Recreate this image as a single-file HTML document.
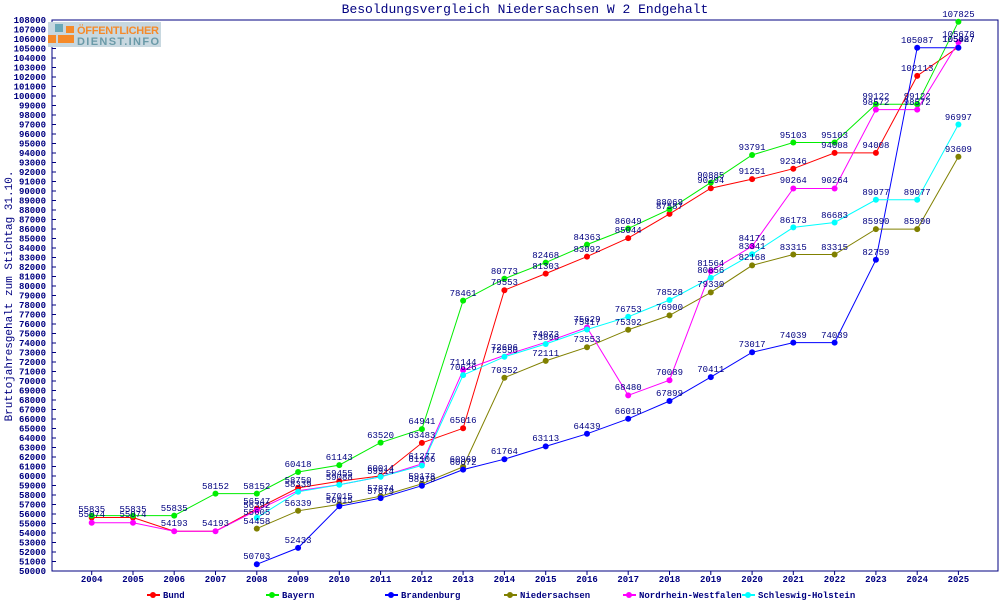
<!DOCTYPE html>
<html><head><meta charset="utf-8"><style>
body{margin:0;background:#fff;}
svg{display:block;font-family:"Liberation Mono","DejaVu Sans Mono",monospace;}
.t{font-size:9px;font-weight:bold;fill:#000080;}
.v{font-size:9px;fill:#000080;text-anchor:middle;}
</style></head><body>
<svg width="1000" height="600" viewBox="0 0 1000 600">
<rect width="1000" height="600" fill="#fff"/>
<text x="525" y="13" text-anchor="middle" font-size="13" fill="#000080">Besoldungsvergleich Niedersachsen W 2 Endgehalt</text>
<rect x="52" y="20" width="946" height="551" fill="none" stroke="#000080" stroke-width="1"/>
<g stroke="#000080" stroke-width="1">
<path d="M52 571h4M52 561.5h4M52 552h4M52 542.5h4M52 533h4M52 523.5h4M52 514h4M52 504.5h4M52 495h4M52 485.5h4M52 476h4M52 466.5h4M52 457h4M52 447.5h4M52 438h4M52 428.5h4M52 419h4M52 409.5h4M52 400h4M52 390.5h4M52 381h4M52 371.5h4M52 362h4M52 352.5h4M52 343h4M52 333.5h4M52 324h4M52 314.5h4M52 305h4M52 295.5h4M52 286h4M52 276.5h4M52 267h4M52 257.5h4M52 248h4M52 238.5h4M52 229h4M52 219.5h4M52 210h4M52 200.5h4M52 191h4M52 181.5h4M52 172h4M52 162.5h4M52 153h4M52 143.5h4M52 134h4M52 124.5h4M52 115h4M52 105.5h4M52 96h4M52 86.5h4M52 77h4M52 67.5h4M52 58h4M52 48.5h4M52 39h4M52 29.5h4"/>
<path d="M91.7 571v4M133 571v4M174.2 571v4M215.5 571v4M256.8 571v4M298.1 571v4M339.3 571v4M380.6 571v4M421.9 571v4M463.1 571v4M504.4 571v4M545.7 571v4M587 571v4M628.2 571v4M669.5 571v4M710.8 571v4M752.1 571v4M793.3 571v4M834.6 571v4M875.9 571v4M917.2 571v4M958.4 571v4"/>
</g>
<rect x="48" y="22" width="113" height="25" fill="#c8d8e0"/>
<rect x="55" y="24" width="8" height="8" fill="#6aa8b8"/><rect x="66" y="26" width="8" height="7" fill="#f58a2a"/>
<rect x="48" y="35" width="8" height="8" fill="#f58a2a"/><rect x="58" y="35" width="8" height="8" fill="#f58a2a"/><rect x="66" y="35" width="8" height="8" fill="#f58a2a"/>
<text x="77" y="34" font-size="11" font-weight="bold" fill="#f58a2a" font-family="Liberation Sans,sans-serif" textLength="82">ÖFFENTLICHER</text>
<text x="77" y="45" font-size="11" font-weight="bold" fill="#6a9aa8" font-family="Liberation Sans,sans-serif" textLength="82">DIENST.INFO</text>
<text transform="translate(12,296) rotate(-90)" text-anchor="middle" font-size="11" fill="#000080">Bruttojahresgehalt zum Stichtag 31.10.</text>
<g class="t" text-anchor="end">
<text x="46" y="574">50000</text><text x="46" y="564.5">51000</text><text x="46" y="555">52000</text><text x="46" y="545.5">53000</text><text x="46" y="536">54000</text><text x="46" y="526.5">55000</text><text x="46" y="517">56000</text><text x="46" y="507.5">57000</text><text x="46" y="498">58000</text><text x="46" y="488.5">59000</text><text x="46" y="479">60000</text><text x="46" y="469.5">61000</text><text x="46" y="460">62000</text><text x="46" y="450.5">63000</text><text x="46" y="441">64000</text><text x="46" y="431.5">65000</text><text x="46" y="422">66000</text><text x="46" y="412.5">67000</text><text x="46" y="403">68000</text><text x="46" y="393.5">69000</text><text x="46" y="384">70000</text><text x="46" y="374.5">71000</text><text x="46" y="365">72000</text><text x="46" y="355.5">73000</text><text x="46" y="346">74000</text><text x="46" y="336.5">75000</text><text x="46" y="327">76000</text><text x="46" y="317.5">77000</text><text x="46" y="308">78000</text><text x="46" y="298.5">79000</text><text x="46" y="289">80000</text><text x="46" y="279.5">81000</text><text x="46" y="270">82000</text><text x="46" y="260.5">83000</text><text x="46" y="251">84000</text><text x="46" y="241.5">85000</text><text x="46" y="232">86000</text><text x="46" y="222.5">87000</text><text x="46" y="213">88000</text><text x="46" y="203.5">89000</text><text x="46" y="194">90000</text><text x="46" y="184.5">91000</text><text x="46" y="175">92000</text><text x="46" y="165.5">93000</text><text x="46" y="156">94000</text><text x="46" y="146.5">95000</text><text x="46" y="137">96000</text><text x="46" y="127.5">97000</text><text x="46" y="118">98000</text><text x="46" y="108.5">99000</text><text x="46" y="99">100000</text><text x="46" y="89.5">101000</text><text x="46" y="80">102000</text><text x="46" y="70.5">103000</text><text x="46" y="61">104000</text><text x="46" y="51.5">105000</text><text x="46" y="42">106000</text><text x="46" y="32.5">107000</text><text x="46" y="23">108000</text>
</g>
<g class="t" text-anchor="middle">
<text x="91.7" y="582">2004</text><text x="133" y="582">2005</text><text x="174.2" y="582">2006</text><text x="215.5" y="582">2007</text><text x="256.8" y="582">2008</text><text x="298.1" y="582">2009</text><text x="339.3" y="582">2010</text><text x="380.6" y="582">2011</text><text x="421.9" y="582">2012</text><text x="463.1" y="582">2013</text><text x="504.4" y="582">2014</text><text x="545.7" y="582">2015</text><text x="587" y="582">2016</text><text x="628.2" y="582">2017</text><text x="669.5" y="582">2018</text><text x="710.8" y="582">2019</text><text x="752.1" y="582">2020</text><text x="793.3" y="582">2021</text><text x="834.6" y="582">2022</text><text x="875.9" y="582">2023</text><text x="917.2" y="582">2024</text><text x="958.4" y="582">2025</text>
</g>
<g fill="none" stroke-width="1">
<polyline stroke="#ff0000" points="91.7,517.5 133,517.5 174.2,531.2 215.5,531.2 256.8,508.8 298.1,487.9 339.3,481.2 380.6,475.9 421.9,442.9 463.1,428.3 504.4,290.2 545.7,273.6 587,256.6 628.2,238.1 669.5,213.9 710.8,188.2 752.1,179.1 793.3,168.7 834.6,152.9 875.9,152.9 917.2,75.9 958.4,47"/>
<polyline stroke="#00ee00" points="91.7,515.6 133,515.6 174.2,515.6 215.5,493.6 256.8,493.6 298.1,472 339.3,465.1 380.6,442.6 421.9,429.1 463.1,300.6 504.4,278.7 545.7,262.6 587,244.6 628.2,228.5 669.5,209.3 710.8,182.6 752.1,155 793.3,142.5 834.6,142.5 875.9,104.3 917.2,104.3 958.4,21.7"/>
<polyline stroke="#0000ff" points="256.8,564.3 298.1,547.9 339.3,506.3 380.6,498.1 421.9,485.7 463.1,469.6 504.4,459.2 545.7,446.4 587,433.8 628.2,418.8 669.5,401 710.8,377.1 752.1,352.3 793.3,342.6 834.6,342.6 875.9,259.8 917.2,47.7 958.4,47.7"/>
<polyline stroke="#808000" points="256.8,528.6 298.1,510.8 339.3,504.4 380.6,496.2 421.9,483.8 463.1,466.8 504.4,377.7 545.7,360.9 587,347.2 628.2,329.8 669.5,315.4 710.8,292.4 752.1,265.4 793.3,254.5 834.6,254.5 875.9,229.1 917.2,229.1 958.4,156.7"/>
<polyline stroke="#ff00ff" points="91.7,522.8 133,522.8 174.2,531.2 215.5,531.2 256.8,510.3 298.1,490.7 339.3,484.7 380.6,476.8 421.9,463.9 463.1,370.1 504.4,355.4 545.7,342.3 587,327.5 628.2,395.4 669.5,380.2 710.8,271.1 752.1,246.3 793.3,188.5 834.6,188.5 875.9,109.6 917.2,109.6 958.4,42.1"/>
<polyline stroke="#00ffff" points="256.8,517.8 298.1,491.8 339.3,484.7 380.6,476.8 421.9,465.5 463.1,375.1 504.4,356.8 545.7,344 587,329.5 628.2,316.8 669.5,300 710.8,277.9 752.1,254.3 793.3,227.4 834.6,222.5 875.9,199.8 917.2,199.8 958.4,124.5"/>
</g>
<g fill="#ff0000"><circle cx="91.7" cy="517.5" r="3"/><circle cx="133" cy="517.5" r="3"/><circle cx="256.8" cy="508.8" r="3"/><circle cx="298.1" cy="487.9" r="3"/><circle cx="339.3" cy="481.2" r="3"/><circle cx="380.6" cy="475.9" r="3"/><circle cx="421.9" cy="442.9" r="3"/><circle cx="463.1" cy="428.3" r="3"/><circle cx="504.4" cy="290.2" r="3"/><circle cx="545.7" cy="273.6" r="3"/><circle cx="587" cy="256.6" r="3"/><circle cx="628.2" cy="238.1" r="3"/><circle cx="669.5" cy="213.9" r="3"/><circle cx="710.8" cy="188.2" r="3"/><circle cx="752.1" cy="179.1" r="3"/><circle cx="793.3" cy="168.7" r="3"/><circle cx="834.6" cy="152.9" r="3"/><circle cx="875.9" cy="152.9" r="3"/><circle cx="917.2" cy="75.9" r="3"/></g>
<g fill="#00ee00"><circle cx="91.7" cy="515.6" r="3"/><circle cx="133" cy="515.6" r="3"/><circle cx="174.2" cy="515.6" r="3"/><circle cx="215.5" cy="493.6" r="3"/><circle cx="256.8" cy="493.6" r="3"/><circle cx="298.1" cy="472" r="3"/><circle cx="339.3" cy="465.1" r="3"/><circle cx="380.6" cy="442.6" r="3"/><circle cx="421.9" cy="429.1" r="3"/><circle cx="463.1" cy="300.6" r="3"/><circle cx="504.4" cy="278.7" r="3"/><circle cx="545.7" cy="262.6" r="3"/><circle cx="587" cy="244.6" r="3"/><circle cx="628.2" cy="228.5" r="3"/><circle cx="669.5" cy="209.3" r="3"/><circle cx="710.8" cy="182.6" r="3"/><circle cx="752.1" cy="155" r="3"/><circle cx="793.3" cy="142.5" r="3"/><circle cx="834.6" cy="142.5" r="3"/><circle cx="875.9" cy="104.3" r="3"/><circle cx="917.2" cy="104.3" r="3"/><circle cx="958.4" cy="21.7" r="3"/></g>
<g fill="#808000"><circle cx="256.8" cy="528.6" r="3"/><circle cx="298.1" cy="510.8" r="3"/><circle cx="339.3" cy="504.4" r="3"/><circle cx="380.6" cy="496.2" r="3"/><circle cx="421.9" cy="483.8" r="3"/><circle cx="463.1" cy="466.8" r="3"/><circle cx="504.4" cy="377.7" r="3"/><circle cx="545.7" cy="360.9" r="3"/><circle cx="587" cy="347.2" r="3"/><circle cx="628.2" cy="329.8" r="3"/><circle cx="669.5" cy="315.4" r="3"/><circle cx="710.8" cy="292.4" r="3"/><circle cx="752.1" cy="265.4" r="3"/><circle cx="793.3" cy="254.5" r="3"/><circle cx="834.6" cy="254.5" r="3"/><circle cx="875.9" cy="229.1" r="3"/><circle cx="917.2" cy="229.1" r="3"/><circle cx="958.4" cy="156.7" r="3"/></g>
<g fill="#ff00ff"><circle cx="91.7" cy="522.8" r="3"/><circle cx="133" cy="522.8" r="3"/><circle cx="174.2" cy="531.2" r="3"/><circle cx="215.5" cy="531.2" r="3"/><circle cx="256.8" cy="510.3" r="3"/><circle cx="421.9" cy="463.9" r="3"/><circle cx="463.1" cy="370.1" r="3"/><circle cx="587" cy="327.5" r="3"/><circle cx="628.2" cy="395.4" r="3"/><circle cx="669.5" cy="380.2" r="3"/><circle cx="710.8" cy="271.1" r="3"/><circle cx="752.1" cy="246.3" r="3"/><circle cx="793.3" cy="188.5" r="3"/><circle cx="834.6" cy="188.5" r="3"/><circle cx="875.9" cy="109.6" r="3"/><circle cx="917.2" cy="109.6" r="3"/><circle cx="958.4" cy="42.1" r="3"/></g>
<g fill="#00ffff"><circle cx="256.8" cy="517.8" r="3"/><circle cx="298.1" cy="491.8" r="3"/><circle cx="339.3" cy="484.7" r="3"/><circle cx="380.6" cy="476.8" r="3"/><circle cx="421.9" cy="465.5" r="3"/><circle cx="463.1" cy="375.1" r="3"/><circle cx="504.4" cy="356.8" r="3"/><circle cx="545.7" cy="344" r="3"/><circle cx="587" cy="329.5" r="3"/><circle cx="628.2" cy="316.8" r="3"/><circle cx="669.5" cy="300" r="3"/><circle cx="710.8" cy="277.9" r="3"/><circle cx="752.1" cy="254.3" r="3"/><circle cx="793.3" cy="227.4" r="3"/><circle cx="834.6" cy="222.5" r="3"/><circle cx="875.9" cy="199.8" r="3"/><circle cx="917.2" cy="199.8" r="3"/><circle cx="958.4" cy="124.5" r="3"/></g>
<g fill="#0000ff"><circle cx="256.8" cy="564.3" r="3"/><circle cx="298.1" cy="547.9" r="3"/><circle cx="339.3" cy="506.3" r="3"/><circle cx="380.6" cy="498.1" r="3"/><circle cx="421.9" cy="485.7" r="3"/><circle cx="463.1" cy="469.6" r="3"/><circle cx="504.4" cy="459.2" r="3"/><circle cx="545.7" cy="446.4" r="3"/><circle cx="587" cy="433.8" r="3"/><circle cx="628.2" cy="418.8" r="3"/><circle cx="669.5" cy="401" r="3"/><circle cx="710.8" cy="377.1" r="3"/><circle cx="752.1" cy="352.3" r="3"/><circle cx="793.3" cy="342.6" r="3"/><circle cx="834.6" cy="342.6" r="3"/><circle cx="875.9" cy="259.8" r="3"/><circle cx="917.2" cy="47.7" r="3"/><circle cx="958.4" cy="47.7" r="3"/></g>
<g class="v">
<text x="91.7" y="512">55835</text><text x="133" y="512">55835</text><text x="91.7" y="517">55074</text><text x="133" y="517">55074</text><text x="174.2" y="511">55835</text><text x="215.5" y="489">58152</text><text x="256.8" y="489">58152</text><text x="174.2" y="526">54193</text><text x="215.5" y="526">54193</text>
<text x="256.8" y="504">56547</text><text x="256.8" y="508">56392</text><text x="256.8" y="515">55605</text><text x="256.8" y="524">54458</text><text x="256.8" y="559">50703</text>
<text x="298.1" y="467">60418</text><text x="298.1" y="483">58750</text><text x="298.1" y="487">58339</text><text x="298.1" y="506">56339</text><text x="298.1" y="543">52433</text>
<text x="339.3" y="460">61143</text><text x="339.3" y="476">59455</text><text x="339.3" y="480">59088</text><text x="339.3" y="499">57015</text><text x="339.3" y="503">56815</text>
<text x="380.6" y="438">63520</text><text x="380.6" y="471">60014</text><text x="380.6" y="474">59914</text><text x="380.6" y="491">57874</text><text x="380.6" y="494">57679</text>
<text x="421.9" y="424">64941</text><text x="421.9" y="438">63483</text><text x="421.9" y="459">61277</text><text x="421.9" y="462">61106</text><text x="421.9" y="479">59178</text><text x="421.9" y="482">58979</text>
<text x="463.1" y="296">78461</text><text x="463.1" y="423">65016</text><text x="463.1" y="365">71144</text><text x="463.1" y="370">70626</text><text x="463.1" y="462">60969</text><text x="463.1" y="465">60672</text>
<text x="504.4" y="274">80773</text><text x="504.4" y="285">79553</text><text x="504.4" y="350">72696</text><text x="504.4" y="353">72550</text><text x="504.4" y="373">70352</text><text x="504.4" y="454">61764</text>
<text x="545.7" y="258">82468</text><text x="545.7" y="269">81303</text><text x="545.7" y="337">74073</text><text x="545.7" y="340">73896</text><text x="545.7" y="356">72111</text><text x="545.7" y="441">63113</text>
<text x="587" y="240">84363</text><text x="587" y="252">83092</text><text x="587" y="322">75629</text><text x="587" y="325">75417</text><text x="587" y="342">73553</text><text x="587" y="429">64439</text>
<text x="628.2" y="224">86049</text><text x="628.2" y="233">85044</text><text x="628.2" y="312">76753</text><text x="628.2" y="325">75392</text><text x="628.2" y="390">68480</text><text x="628.2" y="414">66018</text>
<text x="669.5" y="205">88069</text><text x="669.5" y="209">87587</text><text x="669.5" y="295">78528</text><text x="669.5" y="310">76900</text><text x="669.5" y="375">70089</text><text x="669.5" y="396">67899</text>
<text x="710.8" y="178">90885</text><text x="710.8" y="183">90294</text><text x="710.8" y="266">81564</text><text x="710.8" y="273">80856</text><text x="710.8" y="287">79330</text><text x="710.8" y="372">70411</text>
<text x="752.1" y="150">93791</text><text x="752.1" y="174">91251</text><text x="752.1" y="241">84174</text><text x="752.1" y="249">83341</text><text x="752.1" y="260">82168</text><text x="752.1" y="347">73017</text>
<text x="793.3" y="138">95103</text><text x="793.3" y="164">92346</text><text x="793.3" y="183">90264</text><text x="793.3" y="223">86173</text><text x="793.3" y="250">83315</text><text x="793.3" y="338">74039</text>
<text x="834.6" y="138">95103</text><text x="834.6" y="148">94008</text><text x="834.6" y="183">90264</text><text x="834.6" y="218">86683</text><text x="834.6" y="250">83315</text><text x="834.6" y="338">74039</text>
<text x="875.9" y="99">99122</text><text x="875.9" y="105">98572</text><text x="875.9" y="148">94008</text><text x="875.9" y="195">89077</text><text x="875.9" y="224">85990</text><text x="875.9" y="255">82759</text>
<text x="917.2" y="43">105087</text><text x="917.2" y="71">102113</text><text x="917.2" y="99">99122</text><text x="917.2" y="105">98572</text><text x="917.2" y="195">89077</text><text x="917.2" y="224">85990</text>
<text x="958.4" y="17">107825</text><text x="958.4" y="37">105678</text><text x="958.4" y="42">105427</text><text x="958.4" y="42">105087</text><text x="958.4" y="120">96997</text><text x="958.4" y="152">93609</text>
</g>
<g stroke-width="2">
<line x1="147" y1="595" x2="160" y2="595" stroke="#ff0000"/><circle cx="153" cy="595" r="3" fill="#ff0000"/>
<line x1="266" y1="595" x2="279" y2="595" stroke="#00ee00"/><circle cx="272" cy="595" r="3" fill="#00ee00"/>
<line x1="385" y1="595" x2="398" y2="595" stroke="#0000ff"/><circle cx="391" cy="595" r="3" fill="#0000ff"/>
<line x1="504" y1="595" x2="517" y2="595" stroke="#808000"/><circle cx="510" cy="595" r="3" fill="#808000"/>
<line x1="623" y1="595" x2="636" y2="595" stroke="#ff00ff"/><circle cx="629" cy="595" r="3" fill="#ff00ff"/>
<line x1="742" y1="595" x2="755" y2="595" stroke="#00ffff"/><circle cx="748" cy="595" r="3" fill="#00ffff"/>
</g>
<g class="t">
<text x="163" y="598">Bund</text><text x="282" y="598">Bayern</text><text x="401" y="598">Brandenburg</text><text x="520" y="598">Niedersachsen</text><text x="639" y="598">Nordrhein-Westfalen</text><text x="758" y="598">Schleswig-Holstein</text>
</g>
</svg>
</body></html>
